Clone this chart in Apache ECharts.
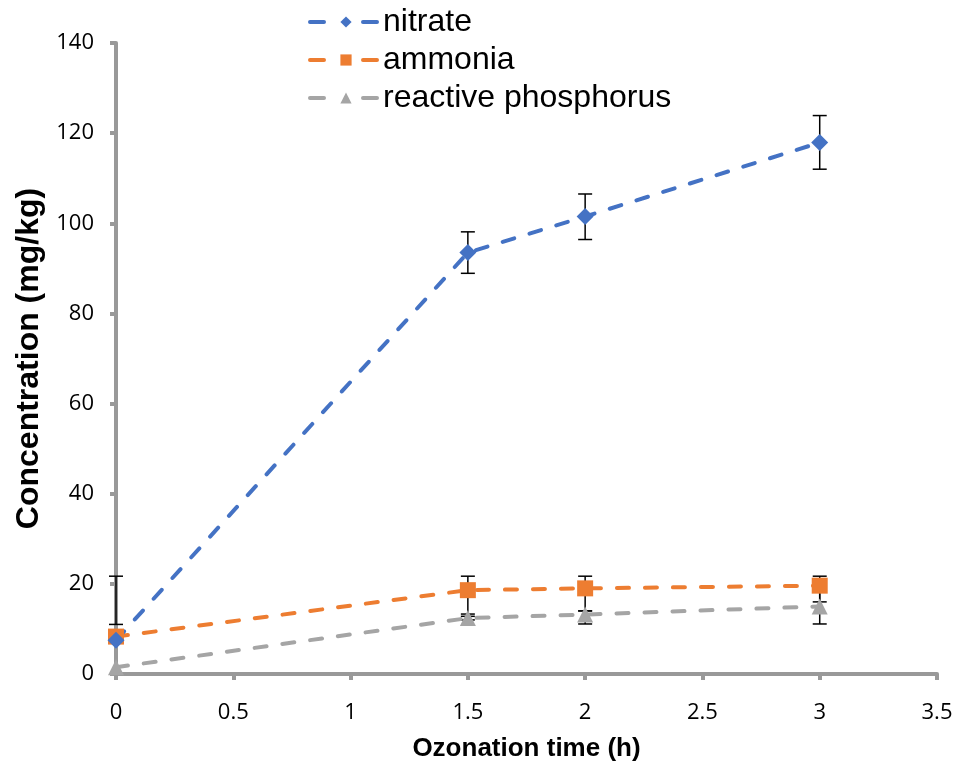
<!DOCTYPE html>
<html>
<head>
<meta charset="utf-8">
<script src="https://cdn.jsdelivr.net/npm/echarts@6/dist/echarts.min.js"></script>
<style>
  html, body { margin: 0; padding: 0; background: #fff; }
  #chart { width: 957px; height: 763px; }
</style>
</head>
<body>
<div id="chart"></div>
<script>
// ozonation time (h)
const times = [0, 1.5, 2, 3]

const nitrate = [7.5, 93.5, 101.5, 117.9]
const nitrateLow = [11, 88.9, 96.4, 112.0]
const nitrateHigh = [21.7, 98.1, 106.5, 123.9]

const ammonia = [8.3, 18.6, 19.0, 19.6]
const ammoniaLow = [8.3, 13.3, 14.0, 16.0]
const ammoniaHigh = [8.3, 21.7, 21.7, 21.7]

const phosphorus = [1.5, 12.4, 13.2, 15.0]
const phosphorusLow = [1.5, 12.0, 11.1, 11.1]
const phosphorusHigh = [1.5, 12.8, 14.0, 18.9]

const xTicks = [0, 0.5, 1, 1.5, 2, 2.5, 3, 3.5]
const yTicks = [0, 20, 40, 60, 80, 100, 120, 140]

const AXIS_GREY = '#999999'

const chart = echarts.init(document.getElementById('chart'))

function pairs(ys) {
  return times.map((t, i) => [t, ys[i]])
}

function errorSeries(low, high) {
  return {
    type: 'custom',
    z: 1,
    silent: true,
    data: times.map((t, i) => [t, low[i], high[i]]),
    renderItem: (params, api) => {
      const lo = api.coord([api.value(0), api.value(1)])
      const hi = api.coord([api.value(0), api.value(2)])
      if (Math.abs(hi[1] - lo[1]) < 1) return null
      const cap = 7
      const style = { stroke: '#000', lineWidth: 1.5 }
      return {
        type: 'group',
        children: [
          { type: 'line', shape: { x1: lo[0], y1: lo[1], x2: hi[0], y2: hi[1] }, style },
          { type: 'line', shape: { x1: lo[0] - cap, y1: lo[1], x2: lo[0] + cap, y2: lo[1] }, style },
          { type: 'line', shape: { x1: hi[0] - cap, y1: hi[1], x2: hi[0] + cap, y2: hi[1] }, style },
        ]
      }
    }
  }
}

function lineSeries(name, ys, color, symbol, size) {
  return {
    name: name,
    type: 'line',
    z: 3,
    data: pairs(ys),
    symbol: symbol,
    symbolSize: size,
    showAllSymbol: true,
    itemStyle: { color: color },
    lineStyle: { color: color, width: 4, type: [12, 16], cap: 'round' },
  }
}

const option = {
  backgroundColor: '#fff',
  animation: false,
  textStyle: { fontFamily: '"Open Sans", "Liberation Sans", sans-serif' },
  legend: {
    orient: 'vertical',
    left: 303,
    top: 1,
    itemWidth: 72,
    itemHeight: 14,
    itemGap: 6,
    lineStyle: { width: 4, type: [14, 39], cap: 'round' },
    textStyle: { fontFamily: '"Liberation Sans", Arial, sans-serif', fontSize: 32, color: '#000', padding: [0, 0, 0, -4] },
    data: ['nitrate', 'ammonia', 'reactive phosphorus'],
  },
  grid: { left: 116, right: 20, top: 43, bottom: 89, containLabel: false, outerBoundsMode: 'none' },
  xAxis: {
    type: 'value',
    min: 0,
    max: 3.5,
    interval: 0.5,
    name: 'Ozonation time (h)',
    nameLocation: 'middle',
    nameGap: 62,
    nameTextStyle: { fontFamily: '"Liberation Sans", Arial, sans-serif', fontWeight: 'bold', fontSize: 26, color: '#000' },
    axisLine: { show: true, lineStyle: { color: AXIS_GREY, width: 4 } },
    axisTick: { show: true, length: 6, lineStyle: { color: AXIS_GREY, width: 4 } },
    axisLabel: { fontSize: 22, color: '#000', margin: 28, formatter: v => xTicks.includes(v) ? String(v) : '' },
    splitLine: { show: false },
  },
  yAxis: {
    type: 'value',
    min: 0,
    max: 140,
    interval: 20,
    name: 'Concentration (mg/kg)',
    nameLocation: 'middle',
    nameGap: 70,
    nameTextStyle: { fontFamily: '"Liberation Sans", Arial, sans-serif', fontWeight: 'bold', fontSize: 32, color: '#000' },
    axisLine: { show: true, lineStyle: { color: AXIS_GREY, width: 4 } },
    axisTick: { show: true, length: 6, lineStyle: { color: AXIS_GREY, width: 4 } },
    axisLabel: { fontSize: 22, color: '#000', margin: 22, formatter: v => yTicks.includes(v) ? String(v) : '' },
    splitLine: { show: false },
  },
  series: [
    errorSeries(nitrateLow, nitrateHigh),
    errorSeries(ammoniaLow, ammoniaHigh),
    errorSeries(phosphorusLow, phosphorusHigh),
    lineSeries('reactive phosphorus', phosphorus, '#A5A5A5', 'triangle', 16),
    lineSeries('ammonia', ammonia, '#ED7D31', 'rect', 16),
    lineSeries('nitrate', nitrate, '#4472C4', 'diamond', 17),
  ]
}

chart.setOption(option)
</script>
</body>
</html>
